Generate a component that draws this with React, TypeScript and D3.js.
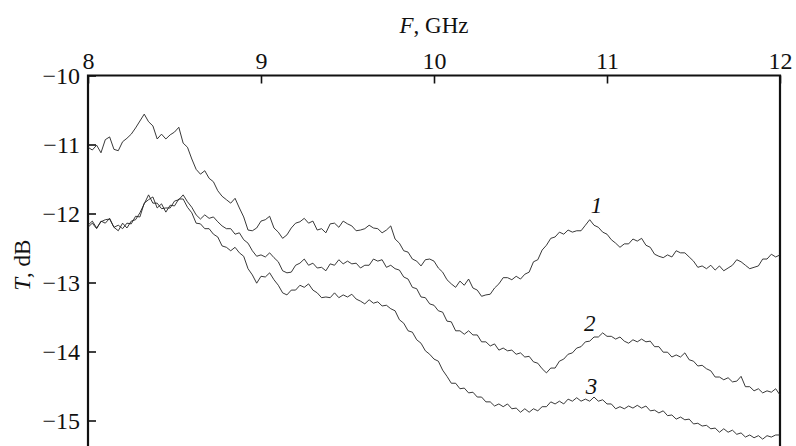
import * as React from 'react';
import { useEffect, useRef } from 'react';
import * as d3 from 'd3';

const width = 796;
const height = 446;
const margin = { top: 75.5, left: 88, right: 16 };

// analyser sweep: 8..12 GHz, 161 points (25 MHz step)
const freq = d3.range(0, 161).map(i => 8 + i * 0.025);

// curve 1, T in dB
const curve1 = [
  -11.04, -11.08, -11.01, -11.12, -10.93, -10.89, -11.07, -11.09, -10.96, -10.91,
  -10.85, -10.76, -10.66, -10.56, -10.67, -10.73, -10.92, -10.85, -10.92, -10.86,
  -10.82, -10.75, -10.98, -11.04, -11.21, -11.36, -11.43, -11.38, -11.49, -11.54,
  -11.67, -11.75, -11.80, -11.85, -11.78, -11.92, -12.05, -12.24, -12.25, -12.21,
  -12.11, -12.09, -12.04, -12.21, -12.27, -12.36, -12.31, -12.21, -12.14, -12.12,
  -12.07, -12.14, -12.11, -12.24, -12.22, -12.28, -12.15, -12.14, -12.20, -12.11,
  -12.15, -12.18, -12.25, -12.24, -12.22, -12.17, -12.21, -12.22, -12.28, -12.24,
  -12.18, -12.37, -12.43, -12.54, -12.56, -12.66, -12.69, -12.76, -12.67, -12.66,
  -12.69, -12.79, -12.85, -12.96, -13.02, -13.07, -12.98, -13.04, -12.95, -13.08,
  -13.11, -13.20, -13.18, -13.17, -13.08, -13.02, -12.93, -12.93, -12.96, -12.91,
  -12.95, -12.88, -12.85, -12.70, -12.67, -12.53, -12.46, -12.36, -12.34, -12.27,
  -12.30, -12.24, -12.27, -12.25, -12.25, -12.17, -12.09, -12.17, -12.20, -12.27,
  -12.30, -12.38, -12.43, -12.49, -12.44, -12.44, -12.37, -12.40, -12.36, -12.46,
  -12.49, -12.59, -12.62, -12.64, -12.60, -12.63, -12.54, -12.57, -12.57, -12.63,
  -12.69, -12.78, -12.76, -12.80, -12.75, -12.82, -12.76, -12.83, -12.79, -12.75,
  -12.67, -12.70, -12.75, -12.80, -12.78, -12.76, -12.66, -12.66, -12.59, -12.63,
  -12.60,
];

// curve 2, T in dB
const curve2 = [
  -12.17, -12.11, -12.21, -12.12, -12.09, -12.08, -12.20, -12.25, -12.14, -12.21,
  -12.11, -12.09, -11.99, -11.86, -11.73, -11.85, -11.85, -11.93, -11.92, -11.92,
  -11.82, -11.80, -11.73, -11.83, -11.91, -12.02, -12.08, -12.02, -12.07, -12.05,
  -12.12, -12.18, -12.22, -12.22, -12.30, -12.28, -12.38, -12.43, -12.54, -12.62,
  -12.60, -12.63, -12.57, -12.64, -12.70, -12.83, -12.86, -12.85, -12.75, -12.72,
  -12.66, -12.75, -12.72, -12.79, -12.78, -12.83, -12.73, -12.75, -12.67, -12.73,
  -12.69, -12.73, -12.72, -12.79, -12.75, -12.75, -12.66, -12.69, -12.67, -12.78,
  -12.75, -12.80, -12.82, -12.92, -12.95, -13.07, -13.09, -13.21, -13.22, -13.31,
  -13.33, -13.41, -13.43, -13.56, -13.57, -13.70, -13.70, -13.75, -13.70, -13.76,
  -13.76, -13.86, -13.86, -13.92, -13.89, -13.98, -13.95, -13.99, -13.98, -14.04,
  -14.02, -14.08, -14.07, -14.15, -14.17, -14.25, -14.31, -14.24, -14.24, -14.14,
  -14.11, -14.04, -14.02, -13.95, -13.93, -13.86, -13.85, -13.79, -13.79, -13.73,
  -13.78, -13.78, -13.82, -13.79, -13.85, -13.88, -13.83, -13.86, -13.82, -13.86,
  -13.85, -13.93, -13.93, -14.01, -14.01, -14.08, -14.05, -14.08, -14.02, -14.12,
  -14.14, -14.21, -14.20, -14.25, -14.28, -14.37, -14.37, -14.41, -14.38, -14.44,
  -14.43, -14.36, -14.51, -14.51, -14.57, -14.54, -14.60, -14.57, -14.59, -14.54,
  -14.63,
];

// curve 3, T in dB
const curve3 = [
  -12.20, -12.14, -12.22, -12.11, -12.14, -12.07, -12.20, -12.17, -12.22, -12.14,
  -12.15, -12.04, -12.05, -11.85, -11.80, -11.76, -11.92, -11.86, -11.98, -11.88,
  -11.89, -11.79, -11.79, -11.91, -11.99, -12.14, -12.15, -12.22, -12.22, -12.30,
  -12.34, -12.47, -12.49, -12.54, -12.49, -12.57, -12.62, -12.80, -12.89, -13.01,
  -12.91, -12.92, -12.86, -12.96, -13.04, -13.15, -13.18, -13.11, -13.11, -13.04,
  -13.07, -13.02, -13.11, -13.15, -13.22, -13.21, -13.22, -13.15, -13.22, -13.18,
  -13.21, -13.17, -13.24, -13.27, -13.31, -13.25, -13.30, -13.28, -13.34, -13.33,
  -13.38, -13.41, -13.54, -13.59, -13.70, -13.72, -13.83, -13.88, -13.99, -14.04,
  -14.11, -14.14, -14.27, -14.36, -14.46, -14.46, -14.54, -14.53, -14.60, -14.59,
  -14.66, -14.66, -14.73, -14.73, -14.79, -14.76, -14.80, -14.76, -14.83, -14.82,
  -14.88, -14.83, -14.88, -14.83, -14.86, -14.80, -14.80, -14.73, -14.76, -14.72,
  -14.76, -14.69, -14.72, -14.67, -14.72, -14.69, -14.72, -14.66, -14.72, -14.70,
  -14.76, -14.76, -14.83, -14.80, -14.83, -14.79, -14.82, -14.78, -14.82, -14.79,
  -14.86, -14.85, -14.89, -14.86, -14.93, -14.92, -14.98, -14.95, -14.99, -14.98,
  -15.05, -15.04, -15.08, -15.07, -15.12, -15.11, -15.17, -15.12, -15.17, -15.14,
  -15.20, -15.18, -15.24, -15.21, -15.25, -15.22, -15.27, -15.22, -15.24, -15.21,
  -15.21,
];

const series = [curve1, curve2, curve3];

const xTicks = [8, 9, 10, 11, 12];
const yTicks = [-10, -11, -12, -13, -14, -15];

// curve numbers and where they sit (GHz, dB)
const curveNames = ['1', '2', '3'];
const curveNameF = [10.94, 10.9, 10.91];
const curveNameT = [-11.88, -13.59, -14.51];

const serif = '"Liberation Serif", "Times New Roman", serif';

const App: React.FC = () => {
  const svgRef = useRef<SVGSVGElement>(null);

  useEffect(() => {
    if (!svgRef.current) return;
    const svg = d3.select(svgRef.current);
    svg.selectAll('*').remove();

    const x = d3.scaleLinear().domain([8, 12]).range([margin.left, width - margin.right]);
    const y = d3.scaleLinear().domain([-10, -15]).range([margin.top, margin.top + 345]);

    // top axis, ticks point into the plot
    const top = svg.append('g')
      .attr('transform', `translate(0,${margin.top})`)
      .call(d3.axisTop(x).tickValues(xTicks).tickSize(-8).tickSizeOuter(0).tickPadding(7).tickFormat(d3.format('d')));
    top.select('.domain').remove();

    const left = svg.append('g')
      .attr('transform', `translate(${margin.left},0)`)
      .call(d3.axisLeft(y).tickValues(yTicks).tickSize(-8).tickSizeOuter(0).tickPadding(8).tickFormat(d3.format('d')));
    left.select('.domain').remove();

    svg.selectAll('.tick line').attr('stroke', '#111').attr('stroke-width', 1.6);
    svg.selectAll('.tick text')
      .attr('fill', '#111')
      .style('font-family', serif)
      .style('font-size', '24px');

    // frame (bottom edge lies outside the picture)
    const frame = d3.path();
    frame.moveTo(x(8), height + 10);
    frame.lineTo(x(8), y(-10));
    frame.lineTo(x(12), y(-10));
    frame.lineTo(x(12), height + 10);
    svg.append('path')
      .attr('d', frame.toString())
      .attr('fill', 'none')
      .attr('stroke', '#111')
      .attr('stroke-width', 2.2);

    const line = d3.line<number>()
      .x((_, i) => x(freq[i]))
      .y(d => y(d));

    svg.append('g')
      .selectAll('path')
      .data(series)
      .enter()
      .append('path')
      .attr('d', d => line(d))
      .attr('fill', 'none')
      .attr('stroke', '#222')
      .attr('stroke-width', 0.9)
      .attr('stroke-linejoin', 'round');

    svg.append('g')
      .selectAll('text')
      .data(curveNames)
      .enter()
      .append('text')
      .attr('x', (_, i) => x(curveNameF[i]))
      .attr('y', (_, i) => y(curveNameT[i]))
      .attr('text-anchor', 'middle')
      .attr('dominant-baseline', 'central')
      .style('font-family', serif)
      .style('font-style', 'italic')
      .style('font-size', '23px')
      .attr('fill', '#111')
      .text(d => d);

    // axis titles
    const fTitle = svg.append('text')
      .attr('x', x(10))
      .attr('y', 33)
      .attr('text-anchor', 'middle')
      .style('font-family', serif)
      .style('font-size', '23px')
      .attr('fill', '#111');
    fTitle.append('tspan').style('font-style', 'italic').text('F');
    fTitle.append('tspan').text(', GHz');

    const tTitle = svg.append('text')
      .attr('transform', `translate(22,${y(-12.75)}) rotate(-90)`)
      .attr('text-anchor', 'middle')
      .attr('dominant-baseline', 'central')
      .style('font-family', serif)
      .style('font-size', '23px')
      .attr('fill', '#111');
    tTitle.append('tspan').style('font-style', 'italic').text('T');
    tTitle.append('tspan').text(', dB');
  }, []);

  return (
    <svg
      ref={svgRef}
      width={width}
      height={height}
      viewBox={`0 0 ${width} ${height}`}
      style={{ position: 'absolute', left: 0, top: 0, background: '#fff', overflow: 'hidden' }}
    />
  );
};

export default App;
